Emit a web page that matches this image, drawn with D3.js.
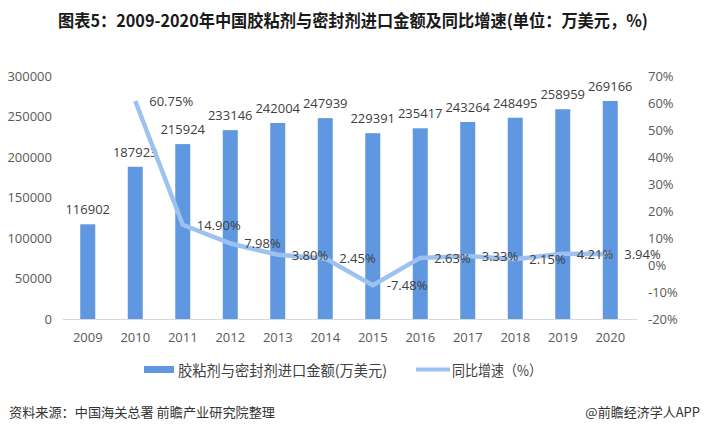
<!DOCTYPE html>
<html><head><meta charset="utf-8">
<script src="https://cdn.jsdelivr.net/npm/d3@7"></script>
<style>
body{margin:0;background:#fff;}
svg{display:block;font-family:"Open Sans","Noto Sans CJK SC",sans-serif;}
</style></head>
<body><svg id="c" width="709" height="432"></svg>
<script>
const years = ["2009","2010","2011","2012","2013","2014","2015","2016","2017","2018","2019","2020"];
const amounts = [116902,187923,215924,233146,242004,247939,229391,235417,243264,248495,258959,269166];
const growth = [null,60.75,14.90,7.98,3.80,2.45,-7.48,2.63,3.33,2.15,4.21,3.94];
const leftTicks = [0,50000,100000,150000,200000,250000,300000];
const rightTicks = [-20,-10,0,10,20,30,40,50,60,70];
const title = "图表5：2009-2020年中国胶粘剂与密封剂进口金额及同比增速(单位：万美元，%)";
const legendNames = ["胶粘剂与密封剂进口金额(万美元)","同比增速（%）"];
const source = "资料来源：中国海关总署 前瞻产业研究院整理";
const credit = "@前瞻经济学人APP";

(function(){
const svg = d3.select("#c");
const pL = 64, pR = 634, pT = 76, pB = 319;
const x = d3.scaleBand().domain(years).range([pL, pR]);
const yL = d3.scaleLinear().domain([0,300000]).range([pB, pT]);
const yR = d3.scaleLinear().domain([-20,70]).range([pB, pT]);
const barColor = "#5f97e0", lineColor = "#9ec2f0", txt = "#404040", axisTxt = "#595959";

svg.append("text").attr("x",58).attr("y",27).attr("font-size",17).attr("font-weight","bold")
  .attr("font-family","'Noto Sans CJK SC',sans-serif").attr("fill","#1a1a1a")
  .attr("textLength",590).attr("lengthAdjust","spacingAndGlyphs").text(title);

svg.append("g").selectAll("text").data(leftTicks).join("text")
  .attr("x",52).attr("y",d=>yL(d)+4.5).attr("text-anchor","end").attr("font-size",13)
  .attr("fill",axisTxt).text(d=>d);
svg.append("g").selectAll("text").data(rightTicks).join("text")
  .attr("x",648).attr("y",d=>yR(d)+4.5).attr("font-size",13)
  .attr("fill",axisTxt).text(d=>d+"%");

svg.append("line").attr("x1",63).attr("x2",637).attr("y1",pB+0.5).attr("y2",pB+0.5)
  .attr("stroke","#d9d9d9").attr("stroke-width",1);

const bw = 15;
svg.append("g").selectAll("rect").data(amounts).join("rect")
  .attr("x",(d,i)=>x(years[i])+x.bandwidth()/2-bw/2).attr("width",bw)
  .attr("y",d=>yL(d)).attr("height",d=>pB-yL(d)).attr("fill",barColor);

svg.append("g").selectAll("text").data(amounts).join("text")
  .attr("x",(d,i)=>x(years[i])+x.bandwidth()/2).attr("y",d=>yL(d)-10)
  .attr("text-anchor","middle").attr("font-size",13).attr("fill",txt).text(d=>d);

svg.append("g").selectAll("text").data(years).join("text")
  .attr("x",d=>x(d)+x.bandwidth()/2).attr("y",342)
  .attr("text-anchor","middle").attr("font-size",13).attr("fill",axisTxt).text(d=>d);

const pts = growth.map((g,i)=>({g,yr:years[i]})).filter(p=>p.g!==null);
const line = d3.line().x(p=>x(p.yr)+x.bandwidth()/2).y(p=>yR(p.g));
svg.append("path").datum(pts).attr("d",line).attr("fill","none")
  .attr("stroke",lineColor).attr("stroke-width",4.5).attr("stroke-linejoin","round");

svg.append("g").selectAll("text").data(pts).join("text")
  .attr("x",p=>x(p.yr)+x.bandwidth()/2+14).attr("y",p=>yR(p.g)+5)
  .attr("font-size",13).attr("fill",txt).text(p=>p.g.toFixed(2)+"%");

const lg = svg.append("g").attr("font-family","'Noto Sans CJK SC',sans-serif");
lg.append("rect").attr("x",144).attr("y",366).attr("width",30).attr("height",7).attr("fill",barColor);
lg.append("text").attr("x",178).attr("y",376).attr("font-size",14.5).attr("fill",txt)
  .attr("textLength",209).attr("lengthAdjust","spacingAndGlyphs").text(legendNames[0]);
lg.append("line").attr("x1",416).attr("x2",450).attr("y1",369.5).attr("y2",369.5)
  .attr("stroke",lineColor).attr("stroke-width",4);
lg.append("text").attr("x",452).attr("y",376).attr("font-size",14.5).attr("fill",txt)
  .attr("textLength",90).attr("lengthAdjust","spacingAndGlyphs").text(legendNames[1]);

svg.append("text").attr("x",9).attr("y",417).attr("font-size",13).attr("fill","#333")
  .attr("font-family","'Noto Sans CJK SC',sans-serif")
  .attr("textLength",266).attr("lengthAdjust","spacingAndGlyphs").text(source);
svg.append("text").attr("x",700).attr("y",417).attr("font-size",13).attr("fill","#333")
  .attr("text-anchor","end").attr("font-family","'Noto Sans CJK SC',sans-serif").text(credit);
})();
</script></body></html>
